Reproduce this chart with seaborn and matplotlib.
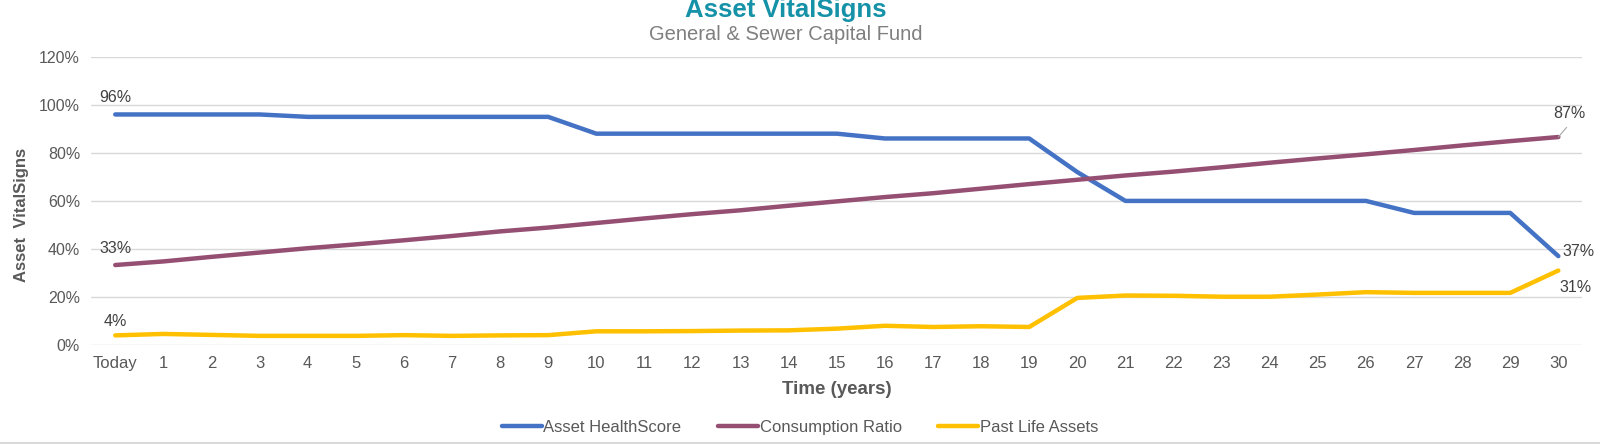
import numpy as np
import pandas as pd
import matplotlib
matplotlib.use('Agg')
import matplotlib.pyplot as plt
import seaborn as sns
from matplotlib.lines import Line2D
from matplotlib.ticker import PercentFormatter

# ── data ────────────────────────────────────────────────────────────────────
years = list(range(31))
year_labels = ['Today'] + [str(y) for y in range(1, 31)]

health_score = [96, 96, 96, 96, 95, 95, 95, 95, 95, 95,
                88, 88, 88, 88, 88, 88, 86, 86, 86, 86,
                72, 60, 60, 60, 60, 60, 60, 55, 55, 55, 37]
consumption = [33.3, 34.8, 36.7, 38.5, 40.3, 41.9, 43.6, 45.4, 47.3, 48.9,
               50.8, 52.7, 54.5, 56.1, 58.0, 59.8, 61.6, 63.2, 65.1, 67.0,
               68.8, 70.6, 72.2, 74.0, 75.9, 77.7, 79.4, 81.2, 83.1, 84.9, 86.6]
past_life = [4.0, 4.6, 4.2, 3.8, 3.8, 3.8, 4.1, 3.8, 4.0, 4.1,
             5.7, 5.7, 5.8, 6.0, 6.1, 6.8, 8.0, 7.5, 7.8, 7.5,
             19.6, 20.6, 20.5, 20.1, 20.1, 21.0, 22.0, 21.7, 21.7, 21.7, 31.0]

series_names = ['Asset HealthScore', 'Consumption Ratio', 'Past Life Assets']
series_colors = ['#4472C4', '#954F72', '#FFC000']

df = pd.DataFrame({
    'year': years * 3,
    'value': health_score + consumption + past_life,
    'series': np.repeat(series_names, len(years)),
})

# ── style ───────────────────────────────────────────────────────────────────
sns.set_style('white')
plt.rcParams['font.family'] = ['Liberation Sans', 'DejaVu Sans']
txt = '#595959'

fig, ax = plt.subplots(figsize=(16, 4.44), dpi=100)
fig.subplots_adjust(left=0.057, right=0.989, top=0.872, bottom=0.223)

sns.lineplot(data=df, x='year', y='value', hue='series', hue_order=series_names,
             palette=series_colors, linewidth=3.2, ax=ax, legend=False)

ax.set_xlim(-0.5, 30.5)
ax.set_ylim(0, 120)
ax.set_yticks(range(0, 121, 20))
ax.yaxis.set_major_formatter(PercentFormatter(decimals=0))
ax.set_xticks(years)
ax.set_xticklabels(year_labels)
ax.tick_params(axis='both', length=0, labelsize=12, labelcolor=txt, pad=8)
ax.tick_params(axis='y', labelsize=11.5)
ax.grid(axis='y', color='#d9d9d9', lw=1)
ax.set_axisbelow(True)
for s in ax.spines.values():
    s.set_visible(False)

ax.set_xlabel('Time (years)', fontsize=13.5, fontweight='bold', color=txt, labelpad=7)
ax.set_ylabel('Asset  VitalSigns', fontsize=12, fontweight='bold', color=txt)
ax.yaxis.set_label_coords(-0.042, 0.45)

fig.text(0.491, 0.978, 'Asset VitalSigns', ha='center', va='center',
         fontsize=18.5, fontweight='bold', color='#1591A8')
fig.text(0.491, 0.923, 'General & Sewer Capital Fund', ha='center', va='center',
         fontsize=14.5, color='#7f7f7f')

# ── data labels ─────────────────────────────────────────────────────────────
lab = dict(fontsize=11.5, color='#404040', textcoords='offset points')
ax.annotate('96%', (0, health_score[0]), xytext=(0, 12), ha='center', va='center', **lab)
ax.annotate('33%', (0, consumption[0]), xytext=(0, 12), ha='center', va='center', **lab)
ax.annotate('4%', (0, past_life[0]), xytext=(0, 10), ha='center', va='center', **lab)
ax.annotate('87%', (30, consumption[-1]), xytext=(-4, 17), ha='left', va='center',
            arrowprops=dict(arrowstyle='-', color='#a6a6a6', lw=0.8,
                            shrinkA=3, shrinkB=0, relpos=(0.6, 0)), **lab)
ax.annotate('37%', (30, health_score[-1]), xytext=(3, 3), ha='left', va='center', **lab)
ax.annotate('31%', (30, past_life[-1]), xytext=(1, -12), ha='left', va='center', **lab)

# ── legend ──────────────────────────────────────────────────────────────────
handles = [Line2D([0], [0], color=c, lw=3.2) for c in series_colors]
fig.legend(handles, series_names, loc='center', bbox_to_anchor=(0.5, 0.038),
           ncol=3, frameon=False, fontsize=12, labelcolor=txt,
           handlelength=2.4, handletextpad=0.1, columnspacing=2.2)

fig.add_artist(Line2D([0, 1], [0.003, 0.003], color='#d9d9d9', lw=1.5,
                      transform=fig.transFigure))

plt.savefig('out.png', dpi=100)
